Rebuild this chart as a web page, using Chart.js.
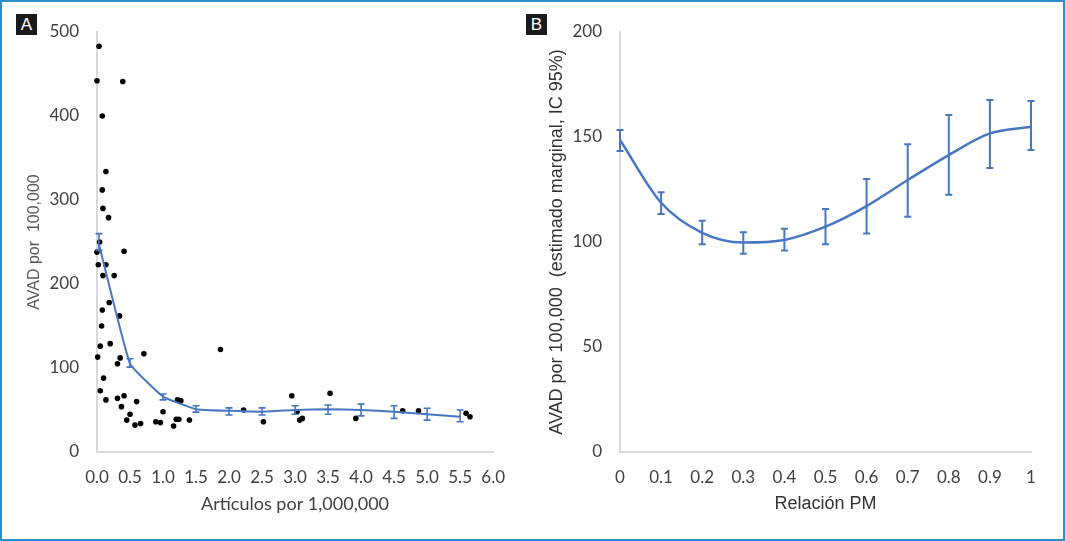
<!DOCTYPE html>
<html>
<head>
<meta charset="utf-8">
<script src="https://cdn.jsdelivr.net/npm/chart.js@4.4.1/dist/chart.umd.min.js"></script>
<style>
  body { margin: 0; background: #fff; }
  #wrap { position: relative; width: 1065px; height: 541px; overflow: hidden; }
  #frame { position: absolute; left: 0; top: 0; width: 1065px; height: 541px; box-sizing: border-box;
           border: 2px solid #2b8fc9; pointer-events: none; }
  canvas { position: absolute; top: 0; }
  #cA { left: 0; }
  #cB { left: 520px; }
  .tag { position: absolute; top: 14px; width: 21px; height: 21px; background: #1a1a1a; color: #fff;
         font: 17px "Liberation Sans", Arial, sans-serif; line-height: 21px; text-align: center; }
</style>
</head>
<body>
<div id="wrap">
  <canvas id="cA" width="520" height="541"></canvas>
  <canvas id="cB" width="545" height="541"></canvas>
  <div class="tag" style="left:16px">A</div>
  <div class="tag" style="left:526px">B</div>
  <div id="frame"></div>
</div>
<script>
// ---- panel A: scatter of countries + fitted line
var artX = [0.03, 0.00, 0.39, 0.08, 0.135, 0.08, 0.09, 0.175, 0.04, 0.00, 0.41, 0.02, 0.135, 0.09, 0.26,
            0.185, 0.08, 0.34, 0.07, 0.05, 0.20, 0.01, 0.71, 0.35, 0.31, 0.10, 0.05, 0.135, 0.31, 0.41,
            0.60, 0.37, 0.50, 0.45, 0.575, 0.66, 0.89, 0.96, 1.00, 1.22, 1.27, 1.16, 1.20, 1.24, 1.40,
            1.87, 2.22, 2.52, 2.95, 3.03, 3.07, 3.11, 3.53, 3.92, 4.63, 4.87, 5.59, 5.65];
var artY = [483, 442, 441, 400, 334, 312, 290, 279, 250, 238, 239, 223, 223, 210, 210,
            178, 169, 162, 150, 126, 129, 113, 117, 112, 105, 88, 73, 62, 64, 67,
            60, 54, 45, 38, 32, 34, 36, 35, 48, 62, 61, 31, 39, 39, 38,
            122, 50, 36, 67, 48, 38, 40, 70, 40, 49, 49, 46, 42];

var fitX  = [0.03, 0.5, 1.0, 1.5, 2.0, 2.5, 3.0, 3.5, 4.0, 4.5, 5.0, 5.5];
var fitY  = [247, 105, 66, 51, 49, 48, 50, 51, 50, 48, 45, 42];
var fitLo = [240, 101, 62, 47.5, 44, 44, 45, 45, 43, 40, 38, 36];
var fitHi = [260, 111, 69, 55, 52.5, 52.5, 55, 56, 57, 55, 52, 50];

var ticksA  = [0, 0.5, 1, 1.5, 2, 2.5, 3, 3.5, 4, 4.5, 5, 5.5, 6];

// ---- panel B: marginal estimate by PM ratio
var pmX  = [0, 0.1, 0.2, 0.3, 0.4, 0.5, 0.6, 0.7, 0.8, 0.9, 1];
var pmY  = [148.6, 118.7, 104.4, 99.8, 101, 107.3, 117.1, 129.5, 141.4, 151.7, 154.9];
var pmLo = [143.3, 113.3, 98.9, 94.4, 95.9, 98.9, 104.1, 112, 122.5, 135.2, 143.8];
var pmHi = [153.3, 123.7, 110.1, 104.6, 106.3, 115.7, 130, 146.5, 160.5, 167.6, 167.1];

var blue = '#4677c0';
var tickFont = { family: 'Lato', size: 17 };
var tickColor = '#404040';
var axisGray = '#d9d9d9';

// draws the CI whiskers through the chart scales
var errorBars = {
  id: 'errorBars',
  afterDatasetsDraw: function(chart, args, opts) {
    var ctx = chart.ctx, xs = chart.scales.x, ys = chart.scales.y;
    ctx.save();
    ctx.strokeStyle = opts.color;
    ctx.lineWidth = opts.width;
    for (var i = 0; i < opts.x.length; i++) {
      var px = xs.getPixelForValue(opts.x[i]);
      var top = ys.getPixelForValue(opts.hi[i]);
      var bot = ys.getPixelForValue(opts.lo[i]);
      ctx.beginPath();
      ctx.moveTo(px, top); ctx.lineTo(px, bot);
      ctx.moveTo(px - opts.cap, top); ctx.lineTo(px + opts.cap, top);
      ctx.moveTo(px - opts.cap, bot); ctx.lineTo(px + opts.cap, bot);
      ctx.stroke();
    }
    ctx.restore();
  }
};

function pts(xs, ys) {
  var out = [];
  for (var i = 0; i < xs.length; i++) out.push({ x: xs[i], y: ys[i] });
  return out;
}

function fixedTicks(list) {
  return function(scale) { scale.ticks = list.map(function(v) { return { value: v }; }); };
}

new Chart(document.getElementById('cA'), {
  type: 'scatter',
  data: {
    datasets: [
      { type: 'line', data: pts(fitX, fitY), borderColor: blue, borderWidth: 2, pointRadius: 0,
        tension: 0.1, fill: false, order: 0 },
      { data: pts(artX, artY), backgroundColor: '#000', borderWidth: 0, pointRadius: 2.8, order: 1, clip: false }
    ]
  },
  options: {
    responsive: false,
    animation: false,
    layout: { padding: { left: 0, right: 18, top: 32, bottom: 26 } },
    plugins: {
      legend: { display: false },
      tooltip: { enabled: false },
      errorBars: { x: fitX, lo: fitLo, hi: fitHi, color: blue, width: 1.6, cap: 3.5 }
    },
    scales: {
      x: {
        type: 'linear', min: 0, max: 6,
        afterBuildTicks: fixedTicks(ticksA),
        afterFit: function(s) { s.height = 63; },
        grid: { display: false, drawTicks: false },
        border: { display: true, color: axisGray, width: 2 },
        ticks: { padding: 15, maxRotation: 0, font: tickFont, color: tickColor,
                 callback: function(v) { return Number(v).toFixed(1); } },
        title: { display: true, text: 'Artículos por 1,000,000', color: '#404040',
                 font: { family: 'Lato', size: 18 }, padding: 0 }
      },
      y: {
        min: 0, max: 500,
        ticks: { stepSize: 100, padding: 18, font: tickFont, color: tickColor },
        afterFit: function(s) { s.width = 97; },
        grid: { display: false, drawTicks: false },
        border: { display: true, color: axisGray, width: 2 },
        title: { display: true, text: 'AVAD por  100,000', color: '#595959',
                 font: { family: 'Liberation Sans', size: 16 }, padding: { top: 25, bottom: 0 } }
      }
    }
  },
  plugins: [errorBars]
});

new Chart(document.getElementById('cB'), {
  type: 'line',
  data: {
    datasets: [
      { data: pts(pmX, pmY), borderColor: blue, borderWidth: 2.5, pointRadius: 0,
        cubicInterpolationMode: 'monotone', fill: false }
    ]
  },
  options: {
    responsive: false,
    animation: false,
    layout: { padding: { left: 0, right: 34, top: 32, bottom: 26 } },
    plugins: {
      legend: { display: false },
      tooltip: { enabled: false },
      errorBars: { x: pmX, lo: pmLo, hi: pmHi, color: blue, width: 2, cap: 3.5 }
    },
    scales: {
      x: {
        type: 'linear', min: 0, max: 1,
        afterBuildTicks: fixedTicks(pmX),
        afterFit: function(s) { s.height = 63; },
        grid: { display: false, drawTicks: false },
        border: { display: true, color: axisGray, width: 2 },
        ticks: { padding: 15, maxRotation: 0, font: tickFont, color: tickColor,
                 callback: function(v) { return String(Math.round(v * 10) / 10); } },
        title: { display: true, text: 'Relación PM', color: '#333',
                 font: { family: 'Liberation Sans', size: 18 }, padding: 0 }
      },
      y: {
        min: 0, max: 200,
        ticks: { stepSize: 50, padding: 18, font: tickFont, color: tickColor },
        afterFit: function(s) { s.width = 100; },
        grid: { display: false, drawTicks: false },
        border: { display: true, color: axisGray, width: 2 },
        title: { display: true, text: 'AVAD por 100,000  (estimado marginal, IC 95%)', color: '#333',
                 font: { family: 'Liberation Sans', size: 18 }, padding: { top: 26, bottom: 0 } }
      }
    }
  },
  plugins: [errorBars]
});
</script>
</body>
</html>
